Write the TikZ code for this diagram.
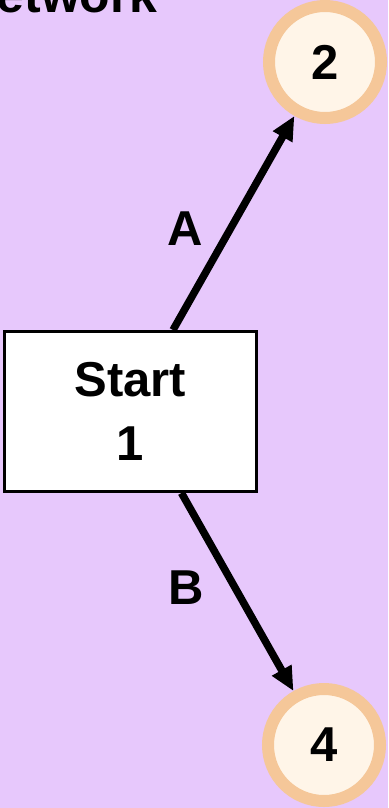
\documentclass[tikz,border=0pt]{standalone}
\usepackage{fontspec}
\setmainfont{Liberation Sans}
\usetikzlibrary{arrows.meta,calc}
\definecolor{bg}{HTML}{E7C8FC}
\definecolor{ring}{HTML}{F5C799}
\definecolor{disc}{HTML}{FFF5E8}
\tikzset{
  event/.style={circle,draw=ring,fill=disc,line width=12pt,minimum size=112pt,inner sep=0pt,
    font=\fontsize{49}{58}\selectfont\bfseries},
  startbox/.style={draw=black,fill=white,line width=3pt,minimum width=252pt,minimum height=160pt,
    inner sep=0pt,align=center,font=\fontsize{49}{64}\selectfont\bfseries},
  act/.style={line width=7.5pt,-{Triangle[length=24pt,width=21pt]}},
  actlabel/.style={font=\fontsize{49}{58}\selectfont\bfseries,inner sep=0pt},
}
\begin{document}
\begin{tikzpicture}[x=1pt,y=-1pt]
  \useasboundingbox (0,0) rectangle (388,808);
  \clip (0,0) rectangle (388,808);
  \fill[bg] (0,0) rectangle (388,808);
  \node[anchor=base east,font=\fontsize{50}{60}\selectfont\bfseries,inner sep=0pt] (title) at (158,13) {Network};
  \node[startbox] (start) at (130.5,411.5) {Start\\1};
  \node[event] (n2) at (325,62) {2};
  \node[event] (n4) at (324,745) {4};
  \coordinate (sa) at ([xshift=42.5pt]start.north);
  \coordinate (sb) at ([xshift=51pt]start.south);
  \draw[act] (sa) -- (n2);
  \draw[act] (sb) -- (n4);
  \node[actlabel] (la) at (185,229) {A};
  \node[actlabel] (lb) at (186,588) {B};
\end{tikzpicture}
\end{document}
